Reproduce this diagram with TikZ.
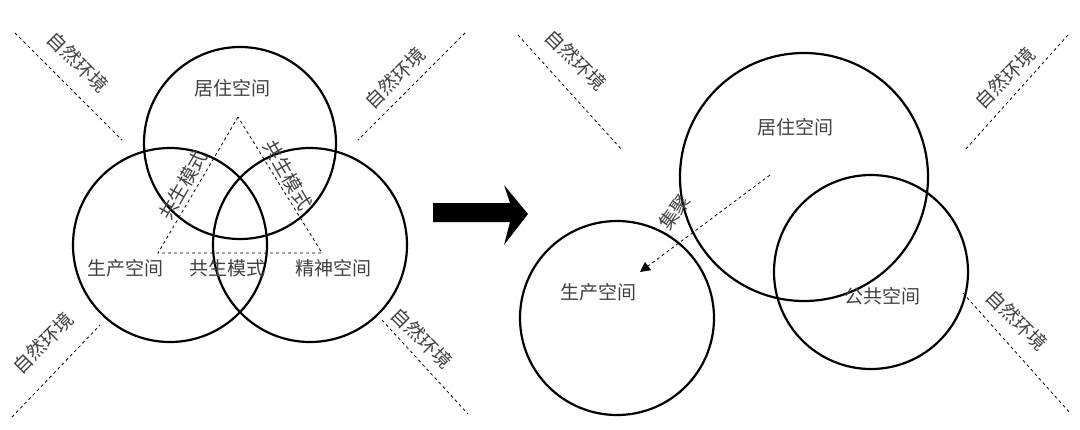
\documentclass[tikz,border=0pt]{standalone}
\usepackage{fontspec}
\newfontfamily\cjk{Noto Sans CJK SC}
\usetikzlibrary{arrows.meta}
\begin{document}
\begin{tikzpicture}[x=1pt, y=-1pt]
    \tikzstyle{space} = [draw, line width=2.2pt]
    \tikzstyle{label} = [text=black!75, font=\cjk\fontsize{19}{22}\selectfont, inner sep=0pt]
    \tikzstyle{env} = [draw, dashed, line width=0.8pt]
    \useasboundingbox (0,0) rectangle (1080,429);

    % left: three overlapping spaces
    \draw [space] (240,143) circle (96);
    \draw [space] (170,245) circle (97);
    \draw [space] (310,245) circle (97);
    \coordinate (apex) at (238,117);
    \coordinate (baseL) at (158,253);
    \coordinate (baseR) at (322,253);
    \draw [env] (apex) -- (baseL) -- (baseR) -- cycle;
    \node [label] (living) at (232,88) {居住空间};
    \node [label] (production) at (125,268) {生产空间};
    \node [label] (mode) at (227,268) {共生模式};
    \node [label] (spirit) at (333,268) {精神空间};
    \node [label, rotate=60] (modeL) at (183,185) {共生模式};
    \node [label, rotate=-60] (modeR) at (288,175) {共生模式};

    % natural environment, left
    \coordinate (a1) at (15,33);   \coordinate (a2) at (122,140);
    \coordinate (b1) at (465,33);  \coordinate (b2) at (358,140);
    \coordinate (c1) at (12,417);  \coordinate (c2) at (100,325);
    \coordinate (d1) at (382,320); \coordinate (d2) at (468,414);
    \draw [env] (a1) -- (a2);
    \draw [env] (b1) -- (b2);
    \draw [env] (c1) -- (c2);
    \draw [env] (d1) -- (d2);
    \node [label, rotate=-45] (envA) at (78,62) {自然环境};
    \node [label, rotate=45] (envB) at (395,78) {自然环境};
    \node [label, rotate=45] (envC) at (43,343) {自然环境};
    \node [label, rotate=-45] (envD) at (422,338) {自然环境};

    % big arrow
    \fill (433,203) -- (510,203) -- (504,185) -- (528,214) -- (504,245) -- (510,222) -- (433,222) -- cycle;

    % right: clustered spaces
    \draw [space] (804,177) circle (124);
    \draw [space] (871,272) circle (97);
    \draw [space] (617,318) circle (97);
    \node [label] (living2) at (795,127) {居住空间};
    \node [label] (public) at (882,296) {公共空间};
    \node [label] (production2) at (598,292) {生产空间};
    \coordinate (from) at (770,175);
    \coordinate (to) at (640,272);
    \draw [env, -{Triangle[length=10pt, width=10pt]}] (from) -- (to);
    \node [label, rotate=55] (cluster) at (675,212) {集聚};

    % natural environment, right
    \coordinate (e1) at (518,35);   \coordinate (e2) at (622,150);
    \coordinate (f1) at (1068,35);  \coordinate (f2) at (965,150);
    \coordinate (g1) at (963,293);  \coordinate (g2) at (1070,413);
    \draw [env] (e1) -- (e2);
    \draw [env] (f1) -- (f2);
    \draw [env] (g1) -- (g2);
    \node [label, rotate=-45] (envE) at (576,60) {自然环境};
    \node [label, rotate=45] (envF) at (1005,78) {自然环境};
    \node [label, rotate=-45] (envG) at (1017,320) {自然环境};
\end{tikzpicture}
\end{document}
